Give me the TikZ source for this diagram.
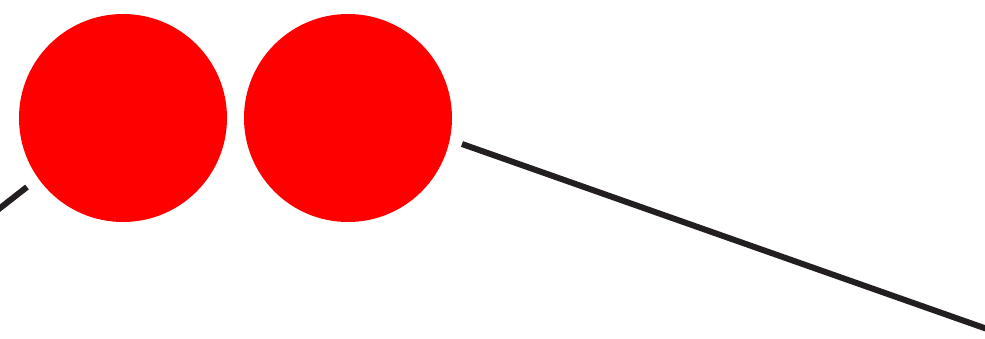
\documentclass[tikz,border=0pt]{standalone}
\begin{document}
\begin{tikzpicture}[x=1pt,y=-1pt,
  dot/.style={circle,fill=red,draw=none,minimum size=208pt,inner sep=0pt},
  wire/.style={line width=6pt,draw={rgb,255:red,35;green,31;blue,32}}]
\useasboundingbox (0,0) rectangle (985,338);
\node[dot] (c1) at (123,118) {};
\node[dot] (c2) at (348,118) {};
\coordinate (l0) at (-5,212);
\coordinate (l1) at (27,187);
\coordinate (r0) at (462,144);
\coordinate (r1) at (990,330);
\draw[wire] (l0) -- (l1);
\draw[wire] (r0) -- (r1);
\end{tikzpicture}
\end{document}
